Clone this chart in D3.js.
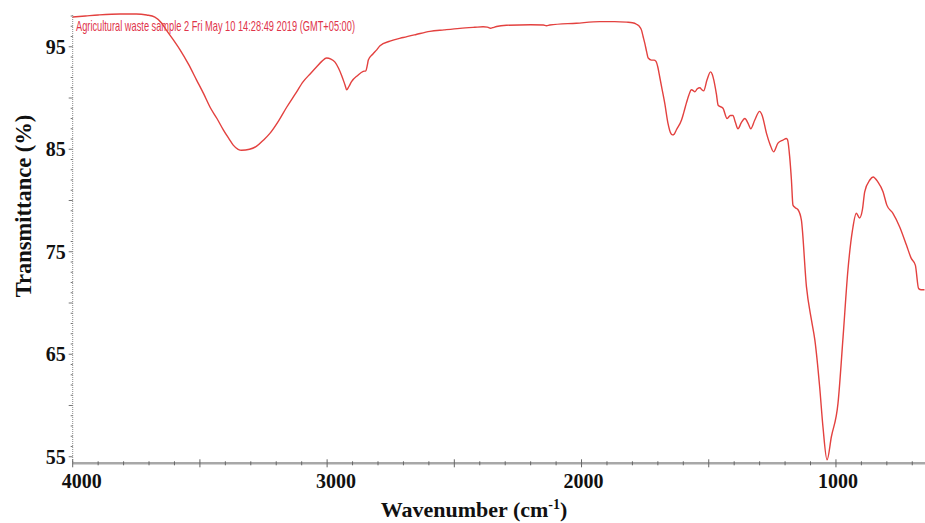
<!DOCTYPE html>
<html>
<head>
<meta charset="utf-8">
<script src="https://cdn.jsdelivr.net/npm/d3@7"></script>
<style>
    body { margin: 0; background: #fff; }
</style>
</head>
<body>
<div id="spektrum"></div>
<script>
// Wavenumbers (cm-1)
var wavenumbers = [4000, 3950, 3900, 3814, 3750, 3709, 3677, 3650, 3631, 3605, 3578, 3545, 3513, 3485, 3460, 3433, 3408, 3385,
    3369, 3350, 3336, 3305, 3277, 3250, 3225, 3190, 3159, 3125, 3094, 3065, 3041, 3020, 3002, 2985, 2969, 2955, 2943, 2930,
    2923, 2915, 2904, 2880, 2858, 2848, 2842, 2838, 2820, 2805, 2792, 2753, 2701, 2650, 2596, 2540, 2478, 2420, 2387, 2370,
    2358, 2345, 2334, 2295, 2200, 2150, 2138, 2125, 2020, 1928, 1870, 1823, 1800, 1784, 1770, 1764, 1758, 1751, 1744, 1738,
    1725, 1715, 1708, 1700, 1693, 1683, 1673, 1660, 1650, 1643, 1635, 1627, 1607, 1598, 1588, 1578, 1568, 1560, 1555, 1545,
    1535, 1527, 1520, 1507, 1493, 1486, 1480, 1470, 1463, 1444, 1428, 1415, 1405, 1395, 1385, 1372, 1358, 1345, 1335, 1319,
    1300, 1290, 1273, 1258, 1245, 1228, 1208, 1195, 1190, 1182, 1175, 1169, 1160, 1149, 1136, 1116, 1096, 1083, 1064, 1051,
    1035, 1018, 992, 972, 953, 935, 920, 907, 896, 887, 867, 854, 835, 815, 800, 776, 749, 723, 704, 688, 675, 665, 652];

// Transmittance (%) for each wavenumber
var transmittance = [97.9, 98.0, 98.1, 98.2, 98.2, 98.1, 97.9, 97.3, 96.6, 95.7, 94.7, 93.3, 91.75, 90.4, 89.1, 88.0, 86.9, 86.0,
    85.4, 85.0, 84.9, 85.0, 85.3, 85.9, 86.55, 87.8, 89.1, 90.4, 91.6, 92.4, 93.05, 93.6, 93.9, 93.8, 93.5, 92.9, 92.2, 91.3,
    90.8, 91.1, 91.6, 92.2, 92.6, 92.65, 93.2, 93.7, 94.3, 94.7, 95.1, 95.55, 95.9, 96.2, 96.5, 96.65, 96.8, 96.9, 96.95, 96.92,
    96.8, 96.9, 96.98, 97.1, 97.15, 97.12, 97.05, 97.12, 97.3, 97.45, 97.45, 97.4, 97.35, 97.2, 96.9, 96.6, 96.0, 95.3, 94.5, 93.9,
    93.7, 93.7, 93.6, 93.0, 92.1, 90.8, 89.5, 87.5, 86.6, 86.4, 86.5, 86.9, 87.85, 88.6, 89.5, 90.3, 90.8, 90.7, 90.6, 90.9,
    91.0, 90.8, 90.7, 91.75, 92.55, 92.3, 91.75, 90.4, 89.3, 89.0, 88.0, 88.3, 88.3, 87.6, 87.0, 87.6, 88.0, 87.5, 87.0, 87.85,
    88.7, 88.3, 86.55, 85.4, 84.75, 85.6, 85.9, 86.05, 85.9, 84.3, 82.0, 79.55, 79.3, 79.1, 78.1, 71.6, 68.3, 66.4, 61.8, 57.9,
    54.7, 56.95, 60.2, 66.7, 73.2, 77.1, 78.75, 78.3, 79.1, 80.85, 82.0, 82.3, 81.8, 80.85, 79.55, 78.75, 77.4, 75.65, 74.35, 73.7, 71.4, 71.3, 71.3];

// Tick values
var xTickLabels = [4000, 3000, 2000, 1000];
var yTickLabels = [95, 85, 75, 65, 55];

var sampleText = "Agricultural waste sample 2 Fri May 10 14:28:49 2019 (GMT+05:00)";

var dataset = wavenumbers.map(function (w, i) { return [w, transmittance[i]]; });

var w = 925;
var h = 523;

var svg = d3.select("#spektrum")
    .append("svg")
    .attr("width", w)
    .attr("height", h);

// Scales - the x axis runs backwards like in an IR spectrum
var xScale = d3.scaleLinear().domain([4000, 650]).range([72.7, 925]);
var yScale = d3.scaleLinear().domain([54.36, 98.1]).range([463.3, 15]);

var serif = "'Liberation Serif', 'Times New Roman', serif";

// Y axis: thin dotted line with minor ticks
svg.append("line")
    .attr("x1", xScale(4000)).attr("x2", xScale(4000))
    .attr("y1", yScale.range()[1]).attr("y2", yScale.range()[0])
    .style("stroke", "#8a8a8a")
    .style("stroke-width", 1)
    .style("stroke-dasharray", "1,1");

svg.append("g")
    .selectAll("line")
    .data(d3.range(55, 99, 1))
    .enter()
    .append("line")
    .attr("x1", function (d) { return xScale(4000) - (d % 5 == 0 ? 4 : 2); })
    .attr("x2", xScale(4000))
    .attr("y1", function (d) { return yScale(d); })
    .attr("y2", function (d) { return yScale(d); })
    .style("stroke", "#777")
    .style("stroke-width", 1);

svg.append("g")
    .selectAll("text")
    .data(yTickLabels)
    .enter()
    .append("text")
    .attr("x", xScale(4000) - 7)
    .attr("y", function (d) { return yScale(d); })
    .attr("dy", "0.35em")
    .attr("text-anchor", "end")
    .style("font-family", serif)
    .style("font-weight", "bold")
    .style("font-size", "20px")
    .style("fill", "#111")
    .text(function (d) { return d; });

// X axis: thick gray line with ticks every 100
svg.append("line")
    .attr("x1", xScale(4000)).attr("x2", w)
    .attr("y1", yScale.range()[0]).attr("y2", yScale.range()[0])
    .style("stroke", "#a8a8a8")
    .style("stroke-width", 2.5);

svg.append("g")
    .selectAll("line")
    .data(d3.range(4000, 650, -100))
    .enter()
    .append("line")
    .attr("x1", function (d) { return xScale(d); })
    .attr("x2", function (d) { return xScale(d); })
    .attr("y1", function (d) { return yScale.range()[0] - (d % 500 == 0 ? 4 : 2); })
    .attr("y2", function (d) { return yScale.range()[0] + (d % 500 == 0 ? 4 : 2); })
    .style("stroke", "#666")
    .style("stroke-width", 1);

svg.append("g")
    .selectAll("text")
    .data(xTickLabels)
    .enter()
    .append("text")
    .attr("x", function (d) { return xScale(d) + (d >= 3000 ? 9 : 2); })
    .attr("y", 488)
    .attr("text-anchor", "middle")
    .style("font-family", serif)
    .style("font-weight", "bold")
    .style("font-size", "20px")
    .style("fill", "#111")
    .text(function (d) { return d; });

// Axis titles
var xTitle = svg.append("text")
    .attr("x", 474)
    .attr("y", 517)
    .attr("text-anchor", "middle")
    .style("font-family", serif)
    .style("font-weight", "bold")
    .style("font-size", "22px")
    .style("fill", "#111");
xTitle.append("tspan").text("Wavenumber (cm");
xTitle.append("tspan").attr("dy", "-8").style("font-size", "14px").text("-1");
xTitle.append("tspan").attr("dy", "8").text(")");

svg.append("text")
    .attr("text-anchor", "middle")
    .attr("transform", "translate(31,206) rotate(-90)")
    .style("font-family", serif)
    .style("font-weight", "bold")
    .style("font-size", "22.5px")
    .style("fill", "#111")
    .text("Transmittance (%)");

// Sample label in the corner
svg.append("text")
    .attr("x", 76)
    .attr("y", 31)
    .attr("textLength", 279)
    .attr("lengthAdjust", "spacingAndGlyphs")
    .style("font-family", "'Liberation Sans Narrow', 'Liberation Sans', sans-serif")
    .style("font-size", "14.5px")
    .style("fill", "#e0344a")
    .text(sampleText);

// The spectrum itself
var line = d3.line()
    .x(function (d) { return xScale(d[0]); })
    .y(function (d) { return yScale(d[1]); })
    .curve(d3.curveMonotoneX);

svg.append("path")
    .datum(dataset)
    .attr("d", line)
    .style("fill", "none")
    .style("stroke", "#e3413f")
    .style("stroke-width", "1.4");
</script>
</body>
</html>
